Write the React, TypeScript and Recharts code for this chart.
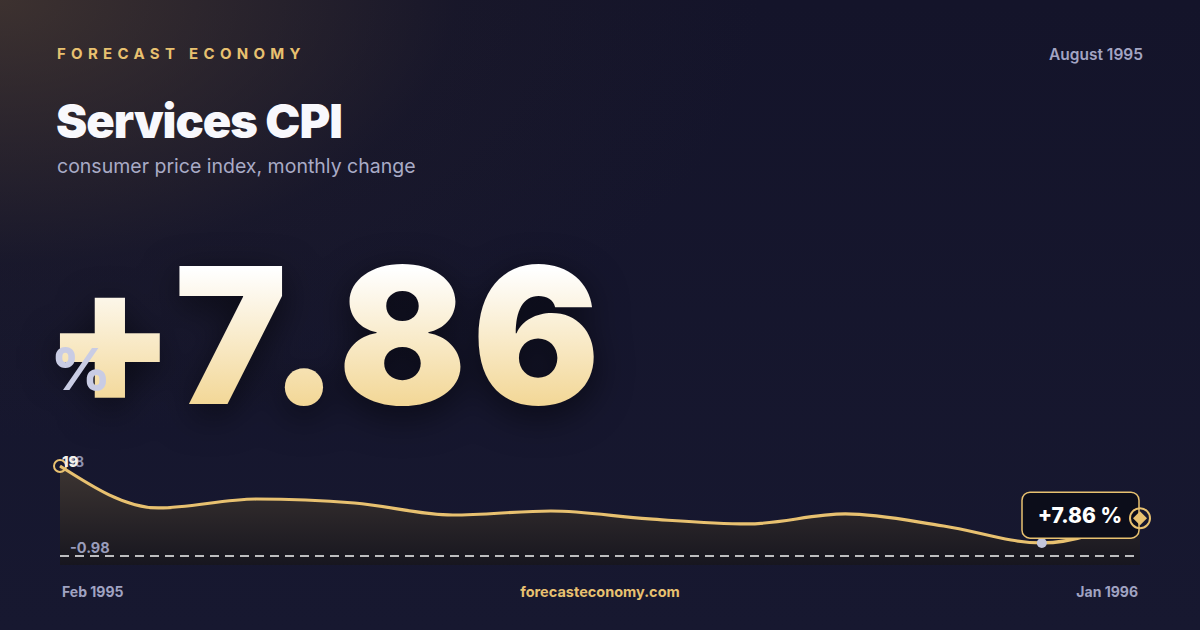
import React from "react"
import { AreaChart, Area, XAxis, YAxis, ReferenceLine } from "recharts"

const months = ["Feb 1995", "Mar 1995", "Apr 1995", "May 1995", "Jun 1995", "Jul 1995", "Aug 1995", "Sep 1995", "Oct 1995", "Nov 1995", "Dec 1995", "Jan 1996"]
const values = [19, 9.68, 11.67, 10.79, 8.12, 9.01, 7.24, 6.13, 8.35, 5.68, 1.91, 7.86]
const yDomain = [-2.98, 22.55]
const baseValue = -0.98

const data = months.map((m, i) => ({ month: m, value: values[i] }))

const gold = "#e8c170"
const font = "Inter, 'Noto Sans', sans-serif"

const minIndex = values.indexOf(Math.min(...values))
const lastIndex = values.length - 1

function renderDot(props: any) {
  const { cx, cy, index } = props
  if (index === 0) {
    return (
      <g key="first">
        <circle cx={cx} cy={cy} r={6} fill="none" stroke={gold} strokeWidth={2} />
        <text x={cx + 24} y={cy + 1} fill="#8f92b0" fontSize={14} fontWeight={700} fontFamily={font} textAnchor="end">18</text>
        <text x={cx + 2} y={cy + 1} fill="#f4f1ea" fontSize={15} fontWeight={800} fontFamily={font}>19</text>
      </g>
    )
  }
  if (index === minIndex) {
    return <circle key="min" cx={cx} cy={cy} r={5} fill="#c3c6dc" />
  }
  if (index === lastIndex) {
    return (
      <g key="last">
        <rect x={cx - 118} y={cy - 24} width={117} height={46} rx={8} fill="#0c0d1a" stroke={gold} strokeWidth={1.5} />
        <text x={cx - 60} y={cy + 7} fill="#ffffff" fontSize={21} fontWeight={800} fontFamily={font} textAnchor="middle">
          +7.86 %
        </text>
        <circle cx={cx} cy={cy + 2} r={10} fill="none" stroke={gold} strokeWidth={2} />
        <path d={`M${cx} ${cy - 5} L${cx + 7} ${cy + 2} L${cx} ${cy + 9} L${cx - 7} ${cy + 2} Z`} fill={gold} />
      </g>
    )
  }
  return <g key={`d${index}`} />
}

export default function App() {
  return (
    <div
      style={{
        position: "absolute",
        left: 0,
        top: 0,
        width: 1200,
        height: 630,
        overflow: "hidden",
        fontFamily: font,
        background:
          "radial-gradient(ellipse 760px 440px at 0% 0%, rgba(78,62,50,0.7), rgba(40,34,40,0.2) 60%, transparent 100%), linear-gradient(180deg, #14142a 0%, #171830 100%)",
      }}
    >
      <div style={{ position: "absolute", left: 57, top: 44, color: gold, fontSize: 15, fontWeight: 700, letterSpacing: 5.3 }}>
        FORECAST ECONOMY
      </div>
      <div style={{ position: "absolute", right: 57, top: 45, color: "#a3a5c3", fontSize: 15.5, fontWeight: 600 }}>August 1995</div>
      <div style={{ position: "absolute", left: 56, top: 92, color: "#f8f8fc", fontSize: 47, fontWeight: 900, letterSpacing: -1 }}>
        Services CPI
      </div>
      <div style={{ position: "absolute", left: 57, top: 154, color: "#a9abc6", fontSize: 19.5 }}>consumer price index, monthly change</div>

      <div style={{ position: "absolute", left: 44, top: 225, filter: "drop-shadow(0 10px 18px rgba(0,0,0,0.55))" }}>
        <div
          style={{
            fontSize: 190,
            fontWeight: 900,
            letterSpacing: 5,
            lineHeight: "220px",
            background: "linear-gradient(180deg, #ffffff 20%, #f2d591 85%)",
            WebkitBackgroundClip: "text",
            backgroundClip: "text",
            color: "transparent",
          }}
        >
          +7.86
        </div>
      </div>
      <div style={{ position: "absolute", left: 51, top: 334, color: "#c9cce4", fontSize: 58, fontWeight: 800 }}>%</div>

      <div style={{ position: "absolute", left: 0, top: 450 }}>
        <AreaChart width={1200} height={115} data={data} margin={{ top: 0, right: 60, bottom: 0, left: 60 }}>
          <defs>
            <linearGradient id="areaFill" x1="0" y1="0" x2="0" y2="1">
              <stop offset="0%" stopColor="#3d3532" stopOpacity={1} />
              <stop offset="100%" stopColor="#17161f" stopOpacity={1} />
            </linearGradient>
          </defs>
          <XAxis dataKey="month" hide />
          <YAxis domain={yDomain} hide />
          <Area
            type="monotone"
            dataKey="value"
            stroke={gold}
            strokeWidth={3.2}
            fill="url(#areaFill)"
            fillOpacity={1}
            baseValue={yDomain[0]}
            dot={renderDot}
            activeDot={false}
            isAnimationActive={false}
          />
          <ReferenceLine
            y={baseValue}
            stroke="#ffffff"
            strokeOpacity={0.95}
            strokeDasharray="9 6"
            strokeWidth={1.3}
            label={{ value: "-0.98", position: "insideTopLeft", fill: "#9a9dbb", fontSize: 14.5, fontWeight: 700, fontFamily: font, dx: 5, dy: -18 }}
          />
        </AreaChart>
      </div>

      <div style={{ position: "absolute", left: 62, top: 583, color: "#a0a3c2", fontSize: 14, fontWeight: 700 }}>Feb 1995</div>
      <div style={{ position: "absolute", left: 0, width: 1200, textAlign: "center", top: 583, color: gold, fontSize: 14.5, fontWeight: 700 }}>
        forecasteconomy.com
      </div>
      <div style={{ position: "absolute", right: 62, top: 583, color: "#a0a3c2", fontSize: 14, fontWeight: 700 }}>Jan 1996</div>
    </div>
  )
}
